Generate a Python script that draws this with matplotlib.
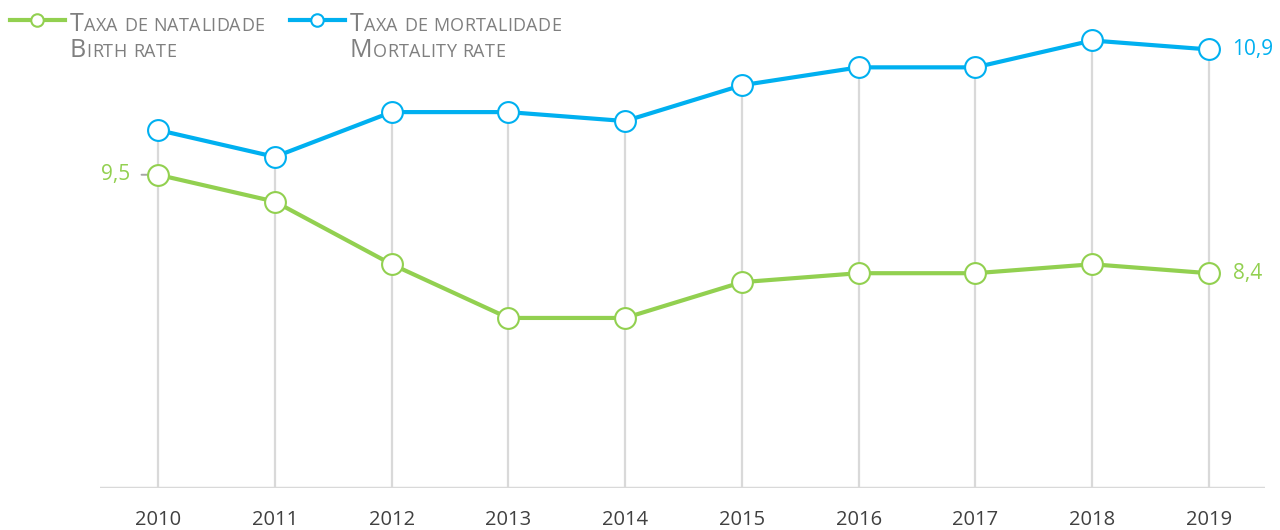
import matplotlib
matplotlib.use('Agg')
import matplotlib.pyplot as plt
from matplotlib import font_manager

# dados
anos = [2010, 2011, 2012, 2013, 2014, 2015, 2016, 2017, 2018, 2019]
natalidade = [9.5, 9.2, 8.5, 7.9, 7.9, 8.3, 8.4, 8.4, 8.5, 8.4]
mortalidade = [10.0, 9.7, 10.2, 10.2, 10.1, 10.5, 10.7, 10.7, 11.0, 10.9]

verde = '#92D050'
azul = '#00B0F0'
cinza = '#D9D9D9'

nomes = {f.name for f in font_manager.fontManager.ttflist}
fonte_leg = 'Liberation Sans Narrow' if 'Liberation Sans Narrow' in nomes else 'Open Sans'

fig = plt.figure(figsize=(12.8, 5.3), dpi=100)
ax = fig.add_axes([100 / 1280, 42 / 530, 1165 / 1280, 488 / 530])
ax.set_xlim(2009.503, 2019.48)
ax.set_ylim(6.0, 6.0 + 488 / 89.5)
ax.axis('off')

# linhas verticais e linha de base
ax.vlines(anos, 6.0, mortalidade, color=cinza, lw=1.6, zorder=1)
ax.axhline(6.0, color=cinza, lw=2.5, zorder=1)

ax.plot(anos, natalidade, color=verde, lw=3, marker='o', ms=15,
        mfc='white', mec=verde, mew=1.5, zorder=3)
ax.plot(anos, mortalidade, color=azul, lw=3, marker='o', ms=15,
        mfc='white', mec=azul, mew=1.5, zorder=3)

# rotulos dos valores
ax.annotate('9,5', (anos[0], natalidade[0]), xytext=(-20, 0), textcoords='offset points',
            ha='right', va='center', color=verde, fontsize=15, family='Open Sans')
ax.annotate('', (anos[0] - 0.05, natalidade[0]), xytext=(anos[0] - 0.165, natalidade[0]),
            arrowprops=dict(arrowstyle='-', color='#A6A6A6', lw=1.4), zorder=2)
ax.annotate('8,4', (anos[-1], natalidade[-1]), xytext=(17, 0), textcoords='offset points',
            ha='left', va='center', color=verde, fontsize=15, family='Open Sans')
ax.annotate('10,9', (anos[-1], mortalidade[-1]), xytext=(17, 0), textcoords='offset points',
            ha='left', va='center', color=azul, fontsize=15, family='Open Sans')

# anos no eixo
for a in anos:
    ax.annotate(str(a), (a, 6.0), xytext=(0, -23), textcoords='offset points',
                ha='center', va='center', color='#404040', fontsize=14.5, family='Open Sans')

# legenda em versaletes
renderer = fig.canvas.get_renderer()


def versalete(x, y, texto, grande=18, pequeno=13, cor='#7F7F7F'):
    for palavra in texto.split(' '):
        for ch in palavra:
            tam = grande if ch.isupper() else pequeno
            t = fig.text(x / 1280, 1 - y / 530, ch.upper(), fontsize=tam, color=cor,
                         family=fonte_leg, va='baseline', ha='left')
            x += t.get_window_extent(renderer).width + 0.3
        x += 6
    return x


for x0, cor, l1, l2 in [(10, verde, 'Taxa de natalidade', 'Birth rate'),
                        (290, azul, 'Taxa de mortalidade', 'Mortality rate')]:
    fig.lines.append(plt.Line2D([x0 / 1280, (x0 + 55) / 1280], [1 - 20 / 530] * 2,
                                transform=fig.transFigure, color=cor, lw=3))
    fig.lines.append(plt.Line2D([(x0 + 27) / 1280], [1 - 20 / 530],
                                transform=fig.transFigure, color=cor, lw=0,
                                marker='o', ms=9, mfc='white', mec=cor, mew=1.5))
    versalete(x0 + 60, 31, l1)
    versalete(x0 + 60, 57, l2)

fig.savefig('out.png', dpi=100)
